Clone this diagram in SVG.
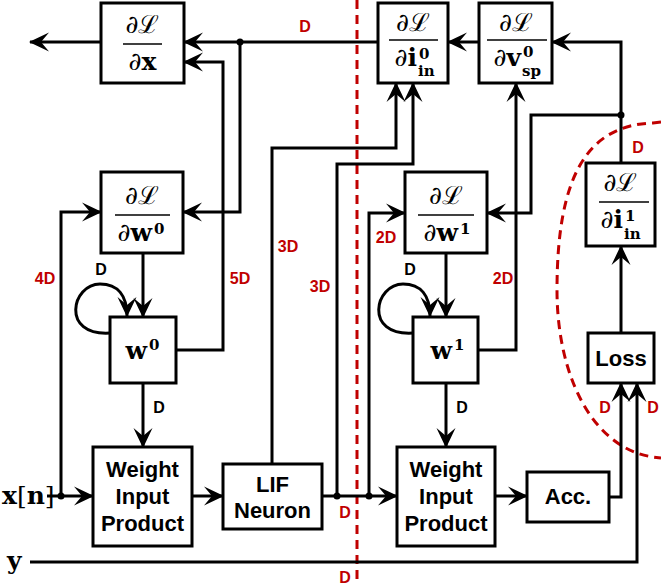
<svg xmlns="http://www.w3.org/2000/svg" width="661" height="585" viewBox="0 0 661 585">
<style>
.box{fill:#fff;stroke:#000;stroke-width:3}
.arr{fill:none;stroke:#000;stroke-width:3;marker-end:url(#ah)}
.frac{stroke:#000;stroke-width:1.5}
.m{font-family:"DejaVu Serif","Liberation Serif",serif;font-size:25px;fill:#000}
.e{text-anchor:end}
.c{text-anchor:middle}
.mb{font-weight:bold}
.sm{font-family:"DejaVu Serif","Liberation Serif",serif;font-size:15px;font-weight:bold;fill:#000}
.t{font-family:"Liberation Sans",Arial,sans-serif;font-size:22px;font-weight:bold;fill:#000;text-anchor:middle}
.rd{font-family:"Liberation Sans",Arial,sans-serif;font-size:16px;font-weight:bold;fill:#c00000;text-anchor:middle}
.bk{font-family:"Liberation Sans",Arial,sans-serif;font-size:16px;font-weight:bold;fill:#000;text-anchor:middle}
.dash{fill:none;stroke:#c00000;stroke-width:3;stroke-dasharray:9 6}
</style>
<defs>
<marker id="ah" markerUnits="userSpaceOnUse" viewBox="0 0 20 20" refX="19" refY="10" markerWidth="20" markerHeight="20" orient="auto">
<path d="M20,10 L0,0.5 L8,10 L0,19.5 Z" fill="#000"/>
</marker>
</defs>

<g id="dashes">
<line class="dash" x1="357" y1="0" x2="357" y2="585"/>
<path class="dash" d="M661 122 L653 123 C585 125 557 180 557 290 C557 375 592 448 653 457 L661 458"/>
</g>

<g id="connectors">
<path class="arr" d="M101 42 L30 42"/>
<path class="arr" d="M378 42 L184 42"/>
<path class="arr" d="M240 42 L240 212 L183 212"/>
<path class="arr" d="M176 350 L223 350 L223 62 L184 62"/>
<path class="arr" d="M47 496 L93 496"/>
<path class="arr" d="M61 496 L61 212 L101 212"/>
<path class="arr" d="M143 253 L143 317"/>
<path class="arr" d="M110 333 C60 336 72 284 100 284 C118 284 127 296 127 316"/>
<path class="arr" d="M143 383 L143 447"/>
<path class="arr" d="M192 496 L223 496"/>
<path class="arr" d="M272 464 L272 148 L396 148 L396 83"/>
<path class="arr" d="M322 496 L397 496"/>
<path class="arr" d="M337 496 L337 164 L413 164 L413 83"/>
<path class="arr" d="M369 496 L369 213 L405 213"/>
<path class="arr" d="M446 253 L446 317"/>
<path class="arr" d="M413 333 C363 336 375 284 403 284 C421 284 430 296 430 316"/>
<path class="arr" d="M478 350 L516 350 L516 83"/>
<path class="arr" d="M446 383 L446 447"/>
<path class="arr" d="M495 496 L527 496"/>
<path class="arr" d="M609 497 L621 497 L621 383"/>
<path class="arr" d="M30 562 L637 562 L637 383"/>
<path class="arr" d="M621 333 L621 246"/>
<path class="arr" d="M621 163 L621 42 L552 42"/>
<path class="arr" d="M621 115 L531 115 L531 213 L487 213"/>
<path class="arr" d="M479 42 L448 42"/>
<circle cx="240" cy="42" r="3.5"/>
<circle cx="61" cy="496" r="3.5"/>
<circle cx="337" cy="496" r="3.5"/>
<circle cx="369" cy="496" r="3.5"/>
<circle cx="621" cy="115" r="3.5"/>
</g>

<g id="labels">
<text class="rd" x="305" y="32">D</text>
<text class="rd" x="45" y="284">4D</text>
<text class="rd" x="240" y="284">5D</text>
<text class="rd" x="288" y="252">3D</text>
<text class="rd" x="320" y="292">3D</text>
<text class="rd" x="386" y="243">2D</text>
<text class="rd" x="503" y="284">2D</text>
<text class="bk" x="101" y="275">D</text>
<text class="bk" x="410" y="275">D</text>
<text class="bk" x="159" y="413">D</text>
<text class="bk" x="462" y="413">D</text>
<text class="rd" x="638" y="153">D</text>
<text class="rd" x="605" y="413">D</text>
<text class="rd" x="653" y="413">D</text>
<text class="rd" x="345" y="518">D</text>
<text class="rd" x="345" y="583">D</text>
<text class="m mb" x="2" y="504">x<tspan font-weight="normal">[</tspan>n<tspan font-weight="normal">]</tspan></text>
<text class="m mb" x="7" y="569">y</text>
</g>

<g id="dLdx">
<rect class="box" x="101" y="3" width="83" height="80"/>
<text class="m c" x="142.5" y="33">∂ℒ</text>
<line class="frac" x1="123" y1="44" x2="162" y2="44"/>
<text class="m c" x="142.5" y="70">∂<tspan class="mb">x</tspan></text>
</g>

<g id="dLdiin0">
<rect class="box" x="378" y="3" width="70" height="80"/>
<text class="m c" x="413" y="31">∂ℒ</text>
<line class="frac" x1="389" y1="40" x2="438" y2="40"/>
<text class="m e" x="417" y="66">∂<tspan class="mb">i</tspan></text>
<text class="sm" x="419" y="59">0</text>
<text class="sm" x="418" y="76">in</text>
</g>

<g id="dLdvsp0">
<rect class="box" x="479" y="3" width="73" height="80"/>
<text class="m c" x="516" y="31">∂ℒ</text>
<line class="frac" x1="487" y1="40" x2="547" y2="40"/>
<text class="m e" x="521" y="66">∂<tspan class="mb">v</tspan></text>
<text class="sm" x="523" y="57">0</text>
<text class="sm" x="522" y="76" font-size="14">sp</text>
</g>

<g id="dLdw0">
<rect class="box" x="101" y="172" width="82" height="81"/>
<text class="m c" x="142" y="204">∂ℒ</text>
<line class="frac" x1="115" y1="215" x2="170" y2="215"/>
<text class="m e" x="152" y="241">∂<tspan class="mb">w</tspan></text>
<text class="sm" x="154" y="234">0</text>
</g>

<g id="w0">
<rect class="box" x="110" y="317" width="66" height="66"/>
<text class="m mb e" x="147" y="359">w</text>
<text class="sm" x="149" y="350">0</text>
</g>

<g id="dLdw1">
<rect class="box" x="405" y="172" width="82" height="81"/>
<text class="m c" x="446" y="204">∂ℒ</text>
<line class="frac" x1="418" y1="215" x2="474" y2="215"/>
<text class="m e" x="458" y="241">∂<tspan class="mb">w</tspan></text>
<text class="sm" x="460" y="234">1</text>
</g>

<g id="w1">
<rect class="box" x="413" y="317" width="65" height="66"/>
<text class="m mb e" x="452" y="359">w</text>
<text class="sm" x="454" y="350">1</text>
</g>

<g id="dLdiin1">
<rect class="box" x="586" y="163" width="69" height="83"/>
<text class="m c" x="620.5" y="191">∂ℒ</text>
<line class="frac" x1="599" y1="202" x2="649" y2="202"/>
<text class="m e" x="623" y="228">∂<tspan class="mb">i</tspan></text>
<text class="sm" x="625" y="221">1</text>
<text class="sm" x="624" y="239">in</text>
</g>

<g id="loss">
<rect class="box" x="588" y="333" width="66" height="50"/>
<text class="t" x="621" y="366">Loss</text>
</g>

<g id="wip0">
<rect class="box" x="93" y="447" width="99" height="99"/>
<text class="t" x="142.5" y="477">Weight</text>
<text class="t" x="142.5" y="504">Input</text>
<text class="t" x="142.5" y="531">Product</text>
</g>

<g id="lif">
<rect class="box" x="223" y="464" width="99" height="65"/>
<text class="t" x="272.5" y="492">LIF</text>
<text class="t" x="272.5" y="518">Neuron</text>
</g>

<g id="wip1">
<rect class="box" x="397" y="447" width="98" height="99"/>
<text class="t" x="446" y="477">Weight</text>
<text class="t" x="446" y="504">Input</text>
<text class="t" x="446" y="531">Product</text>
</g>

<g id="acc">
<rect class="box" x="527" y="472" width="82" height="50"/>
<text class="t" x="568" y="504">Acc.</text>
</g>
</svg>
